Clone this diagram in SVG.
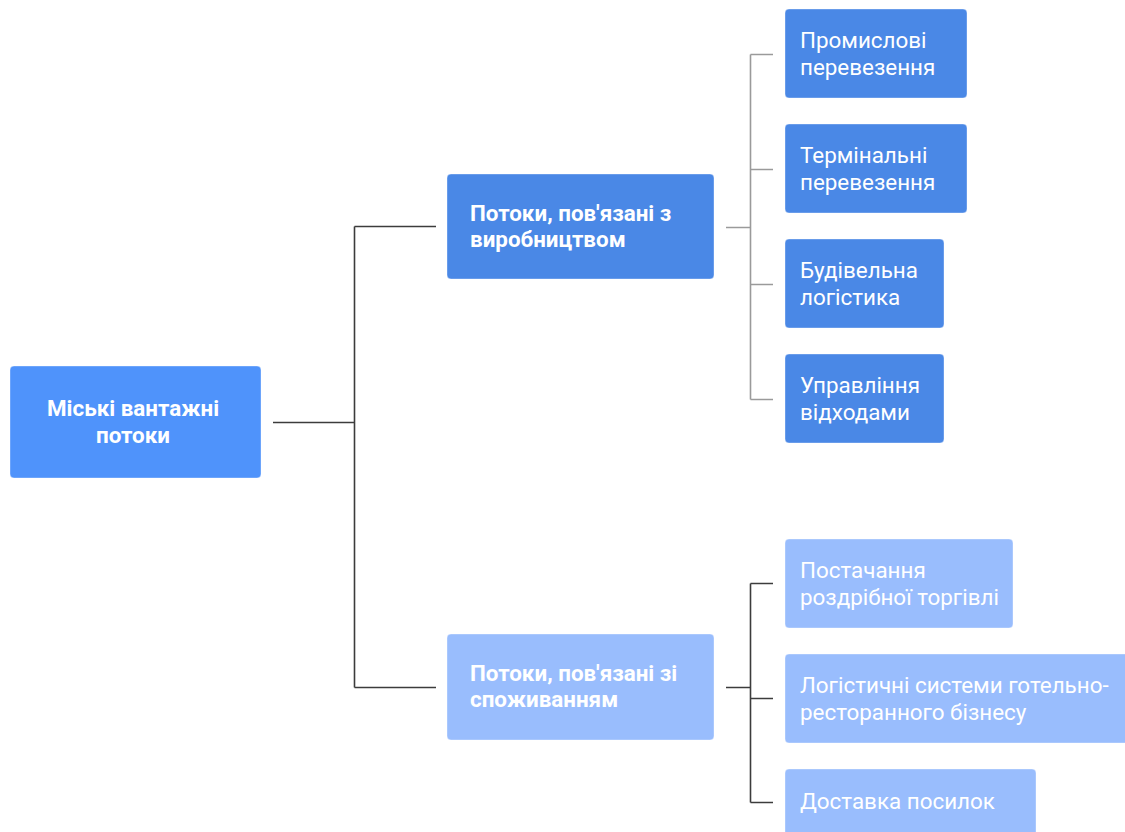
<svg xmlns="http://www.w3.org/2000/svg" width="1125" height="832" viewBox="0 0 1125 832">
  <style>
    .box { stroke: #ffffff; stroke-opacity: 0.35; stroke-width: 1; }
    .root { fill: #4f93fb; }
    .dark { fill: #4a88e6; }
    .light { fill: #99bdfd; }
    .lbl { font-family: Roboto, "Liberation Sans", sans-serif; font-size: 22.4px; fill: #ffffff; }
    .b { font-weight: bold; }
    .ln { fill: none; stroke-width: 1.6; }
    .ln-dark { stroke: #3c3c3c; }
    .ln-grey { stroke: #9a9a9a; }
  </style>
  <rect width="1125" height="832" fill="#ffffff"/>

  <!-- connectors -->
  <g id="connectors">
    <path class="ln ln-dark" d="M273 422.5 H354.5 M354.5 226.5 V687.5 M354.5 226.5 H436 M354.5 687.5 H436"/>
    <path class="ln ln-grey" d="M726 227.5 H750.5 M750.5 54.5 V399.5 M750.5 54.5 H773 M750.5 169.5 H773 M750.5 284.5 H773 M750.5 399.5 H773"/>
    <path class="ln ln-dark" d="M726 687.5 H750.5 M750.5 583.5 V802.5 M750.5 583.5 H773 M750.5 698.5 H773 M750.5 802.5 H773"/>
  </g>

  <g id="root-node">
    <rect class="box root" x="10" y="366" width="251" height="112" rx="4"/>
    <text class="lbl b" text-anchor="middle"><tspan x="133" y="416">Міські вантажні</tspan><tspan x="133" y="443">потоки</tspan></text>
  </g>

  <g id="production-flows">
    <rect class="box dark" x="447" y="174" width="267" height="105" rx="4"/>
    <text class="lbl b"><tspan x="470" y="221">Потоки, пов'язані з</tspan><tspan x="470" y="247">виробництвом</tspan></text>
  </g>

  <g id="consumption-flows">
    <rect class="box light" x="447" y="634" width="267" height="106" rx="4"/>
    <text class="lbl b"><tspan x="470" y="681">Потоки, пов'язані зі</tspan><tspan x="470" y="707">споживанням</tspan></text>
  </g>

  <g id="industrial">
    <rect class="box dark" x="785" y="9" width="182" height="89" rx="4"/>
    <text class="lbl"><tspan x="800" y="48">Промислові</tspan><tspan x="800" y="75">перевезення</tspan></text>
  </g>

  <g id="terminal">
    <rect class="box dark" x="785" y="124" width="182" height="89" rx="4"/>
    <text class="lbl"><tspan x="800" y="163">Термінальні</tspan><tspan x="800" y="190">перевезення</tspan></text>
  </g>

  <g id="construction">
    <rect class="box dark" x="785" y="239" width="159" height="89" rx="4"/>
    <text class="lbl"><tspan x="800" y="278">Будівельна</tspan><tspan x="800" y="305">логістика</tspan></text>
  </g>

  <g id="waste">
    <rect class="box dark" x="785" y="354" width="159" height="89" rx="4"/>
    <text class="lbl"><tspan x="800" y="393">Управління</tspan><tspan x="800" y="420">відходами</tspan></text>
  </g>

  <g id="retail">
    <rect class="box light" x="785" y="539" width="228" height="89" rx="4"/>
    <text class="lbl"><tspan x="800" y="578">Постачання</tspan><tspan x="800" y="605">роздрібної торгівлі</tspan></text>
  </g>

  <g id="horeca">
    <rect class="box light" x="785" y="654" width="350" height="89" rx="4"/>
    <text class="lbl"><tspan x="800" y="693">Логістичні системи готельно-</tspan><tspan x="800" y="720">ресторанного бізнесу</tspan></text>
  </g>

  <g id="parcels">
    <rect class="box light" x="785" y="769" width="251" height="89" rx="4"/>
    <text class="lbl"><tspan x="800" y="809">Доставка посилок</tspan></text>
  </g>
</svg>
